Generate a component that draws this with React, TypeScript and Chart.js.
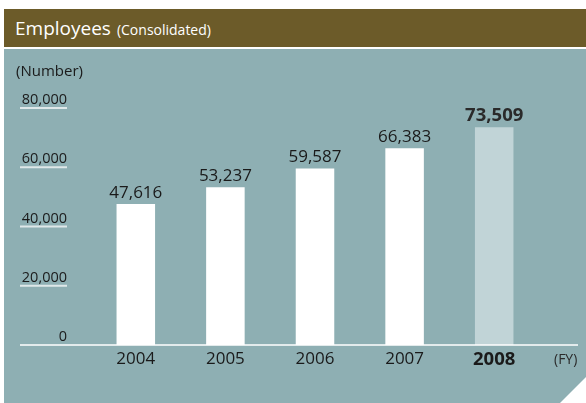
import React, { useEffect, useRef } from "react";
import { Chart, registerables } from "chart.js";

Chart.register(...registerables);

const years = ["2004", "2005", "2006", "2007", "2008"];
const employees = [47616, 53237, 59587, 66383, 73509];
const yTicks = [0, 20000, 40000, 60000, 80000];
const highlightIndex = 4;

const FONT = "'Open Sans', 'Noto Sans', sans-serif";
const TEAL = "#8eafb3";
const HEADER = "#6c5b29";

const fmt = (v: number) => v.toLocaleString("en-US");

const overlayPlugin = {
  id: "overlay",
  afterDatasetsDraw(chart: any) {
    const ctx = chart.ctx;
    const y = chart.scales.y;
    const meta = chart.getDatasetMeta(0);
    ctx.save();
    // value labels
    ctx.textAlign = "center";
    ctx.textBaseline = "alphabetic";
    meta.data.forEach((bar: any, i: number) => {
      const bold = i === highlightIndex;
      ctx.font = `${bold ? "bold 18.5px" : "17px"} ${FONT}`;
      ctx.fillStyle = bold ? "#2a2a2a" : "#1a1a1a";
      ctx.fillText(fmt(employees[i]), bar.x, bar.y - 6);
    });
    // y tick labels with underlines
    ctx.textAlign = "right";
    ctx.font = `14.5px ${FONT}`;
    yTicks.forEach((t) => {
      const py = y.getPixelForValue(t);
      ctx.fillStyle = "#1a1a1a";
      ctx.fillText(fmt(t), 67, py - 4);
      if (t !== 0) {
        ctx.strokeStyle = "#dfe8e9";
        ctx.lineWidth = 2;
        ctx.beginPath();
        ctx.moveTo(20, py);
        ctx.lineTo(67, py);
        ctx.stroke();
      }
    });
    // baseline
    const base = y.getPixelForValue(0);
    ctx.strokeStyle = "#ffffff";
    ctx.lineWidth = 1.5;
    ctx.beginPath();
    ctx.moveTo(20, base);
    ctx.lineTo(578, base);
    ctx.stroke();
    // (FY)
    ctx.textAlign = "left";
    ctx.font = `14px ${FONT}`;
    ctx.fillStyle = "#2a2a2a";
    ctx.fillText("(FY)", 554, base + 19);
    // (Number)
    ctx.font = `15px ${FONT}`;
    ctx.fillStyle = "#1a1a1a";
    ctx.fillText("(Number)", 16, 76);
    ctx.restore();
  },
};

export default function App() {
  const ref = useRef<HTMLCanvasElement>(null);
  useEffect(() => {
    if (!ref.current) return;
    const chart = new Chart(ref.current, {
      type: "bar",
      data: {
        labels: years,
        datasets: [
          {
            data: employees,
            backgroundColor: employees.map((_, i) =>
              i === highlightIndex ? "#c1d4d7" : "#ffffff"
            ),
            borderWidth: 0,
            barPercentage: 0.43,
            categoryPercentage: 1,
          },
        ],
      },
      options: {
        animation: false,
        responsive: false,
        devicePixelRatio: 1,
        layout: { padding: { left: 91, right: 47, top: 108, bottom: 0 } },
        plugins: { legend: { display: false }, tooltip: { enabled: false } },
        scales: {
          x: {
            grid: { display: false },
            border: { display: false },
            ticks: {
              padding: -4,
              color: "#1a1a1a",
              font: (c: any) =>
                c.index === highlightIndex
                  ? { family: FONT, size: 18.5, weight: "bold" }
                  : { family: FONT, size: 17, weight: "normal" },
            },
            afterFit: (s: any) => {
              s.height = 58;
            },
          },
          y: {
            display: false,
            min: 0,
            max: 80000,
          },
        },
      },
      plugins: [overlayPlugin],
    });
    return () => chart.destroy();
  }, []);

  return (
    <div style={{ position: "absolute", left: 0, top: 0, width: 586, height: 403, background: "#ffffff", overflow: "hidden" }}>
      <div
        style={{
          position: "absolute",
          left: 4,
          top: 9,
          width: 582,
          height: 38,
          background: HEADER,
          color: "#ffffff",
          fontFamily: FONT,
          boxSizing: "border-box",
          paddingLeft: 11,
          lineHeight: "38px",
          whiteSpace: "nowrap",
        }}
      >
        <span style={{ fontSize: 19 }}>Employees</span>
        <span style={{ fontSize: 14, marginLeft: 6 }}>(Consolidated)</span>
      </div>
      <div
        style={{
          position: "absolute",
          left: 4,
          top: 49,
          width: 582,
          height: 354,
          background: TEAL,
          clipPath: "polygon(0 0, 100% 0, 100% 328px, 556px 354px, 0 354px)",
        }}
      />
      <canvas ref={ref} width={586} height={403} style={{ position: "absolute", left: 0, top: 0, width: 586, height: 403 }} />
    </div>
  );
}
